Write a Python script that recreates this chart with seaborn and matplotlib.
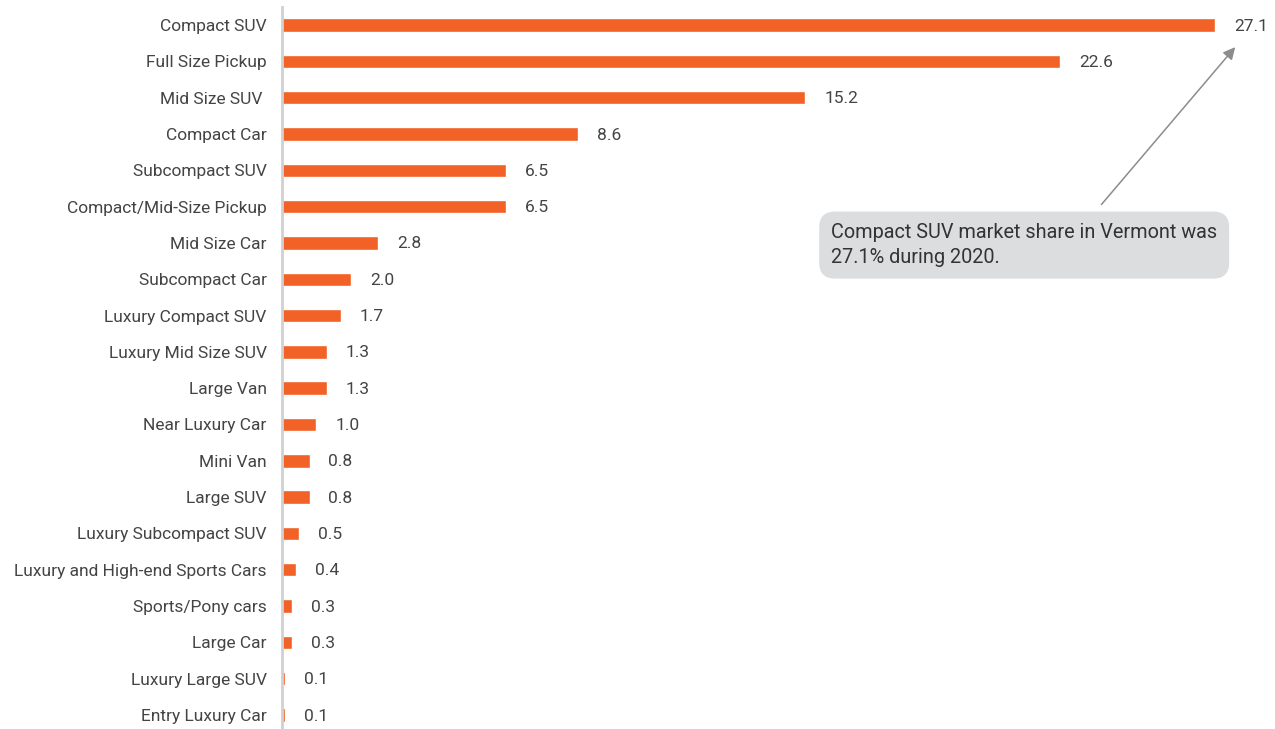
import matplotlib
matplotlib.use("Agg")
import matplotlib.pyplot as plt
import seaborn as sns
import pandas as pd
from matplotlib import font_manager

categories = ["Compact SUV", "Full Size Pickup", "Mid Size SUV ", "Compact Car", "Subcompact SUV",
              "Compact/Mid-Size Pickup", "Mid Size Car", "Subcompact Car", "Luxury Compact SUV",
              "Luxury Mid Size SUV", "Large Van", "Near Luxury Car", "Mini Van", "Large SUV",
              "Luxury Subcompact SUV", "Luxury and High-end Sports Cars", "Sports/Pony cars",
              "Large Car", "Luxury Large SUV", "Entry Luxury Car"]
shares = [27.1, 22.6, 15.2, 8.6, 6.5, 6.5, 2.8, 2.0, 1.7, 1.3, 1.3, 1.0, 0.8, 0.8, 0.5, 0.4, 0.3, 0.3, 0.1, 0.1]
note = "Compact SUV market share in Vermont was\n27.1% during 2020."

df = pd.DataFrame({"category": categories, "share": shares})

sns.set_style("white")
avail = {f.name for f in font_manager.fontManager.ttflist}
fam = "Liberation Sans Narrow" if "Liberation Sans Narrow" in avail else "Roboto"
plt.rcParams["font.family"] = [fam, "DejaVu Sans"]

fig = plt.figure(figsize=(12.75, 7.29), dpi=100)
ax = fig.add_axes([282 / 1275, 0.0, 933 / 1275, 1 - 7 / 729])

orange = "#F26125"
txt = "#444444"
sns.barplot(data=df, x="share", y="category", orient="h", color=orange,
            width=0.37, saturation=1, ax=ax)

for i, v in enumerate(shares):
    ax.text(v + 0.55, i + 0.03, f"{v:.1f}", va="center", ha="left", fontsize=12.5, color=txt)

ax.set_xlim(0, 27.1)
ax.set_ylim(19.385, -0.496)
ax.set_xlabel("")
ax.set_ylabel("")
ax.set_xticks([])
ax.tick_params(axis="y", length=0, pad=11, labelsize=12.5, labelcolor=txt)
for s in ["top", "right", "bottom"]:
    ax.spines[s].set_visible(False)
ax.spines["left"].set_color("#D0D0D0")
ax.spines["left"].set_linewidth(2)

# annotation
ax.annotate("", xy=(27.74, 0.55), xytext=(23.75, 5.0),
            arrowprops=dict(arrowstyle="-|>", color="#8C8C8C", lw=1.1, mutation_scale=18),
            annotation_clip=False)
ax.text(15.95, 6.06, note, ha="left", va="center", fontsize=14.3, color="#333333",
        linespacing=1.35,
        bbox=dict(boxstyle="round,pad=0.6,rounding_size=0.8", fc="#DCDDDE", ec="none"))

fig.savefig("out.png", dpi=100)
